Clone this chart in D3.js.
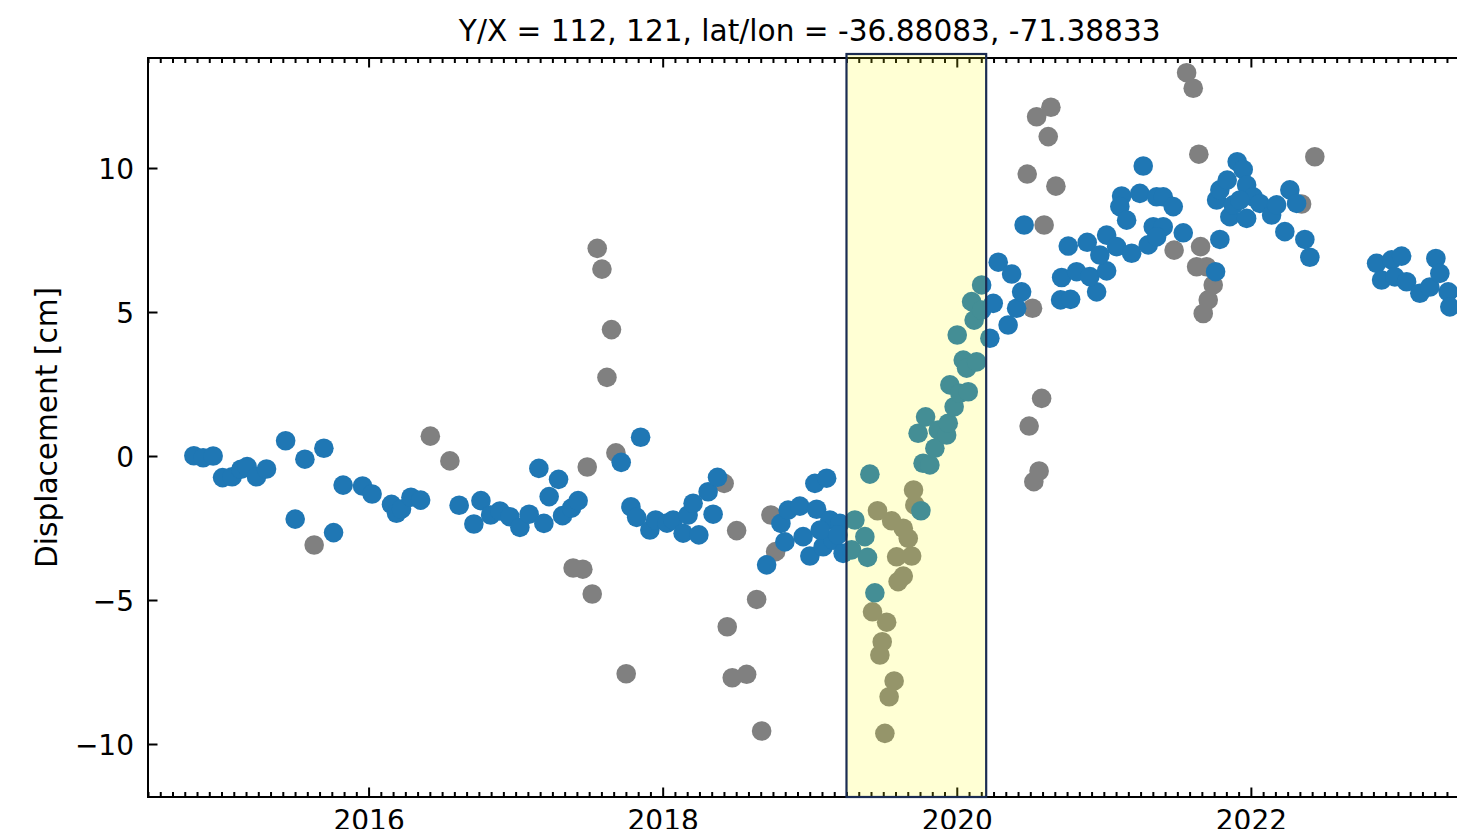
<!DOCTYPE html>
<html>
<head>
<meta charset="utf-8">
<script src="https://cdn.jsdelivr.net/npm/d3@7"></script>
<style>
  html, body { margin: 0; padding: 0; background: #fff; overflow: hidden; }
  svg { display: block; font-family: "DejaVu Sans", sans-serif; }
</style>
</head>
<body>
<svg id="chart" width="1457" height="829"></svg>
<script>
// ---------- DATA ----------
const titleText = "Y/X = 112, 121, lat/lon = -36.88083, -71.38833";
const yLabelText = "Displacement [cm]";
const yTickValues = [-10, -5, 0, 5, 10];
const xMajorYears = [2014, 2016, 2018, 2020, 2022, 2024];
const highlightSpan = [2019.25, 2020.2];

// accepted (blue) points: decimal year, displacement in cm
const blueYear = [
  2014.812, 2014.875, 2014.943, 2015.007, 2015.072, 2015.132, 2015.174, 2015.238, 2015.306, 2015.436,
  2015.501, 2015.567, 2015.696, 2015.762, 2015.827, 2015.959, 2016.024, 2016.156, 2016.190, 2016.224,
  2016.288, 2016.354, 2016.616, 2016.716, 2016.764, 2016.830, 2016.893, 2016.961, 2017.029, 2017.092,
  2017.158, 2017.192, 2017.228, 2017.292, 2017.319, 2017.380, 2017.425, 2017.718, 2017.850, 2017.784,
  2017.823, 2017.913, 2017.952, 2018.029, 2018.071, 2018.139, 2018.173, 2018.207, 2018.246, 2018.309,
  2018.343, 2018.373, 2018.707, 2018.804, 2018.831, 2018.853, 2018.933, 2018.955, 2019.001, 2019.035,
  2019.047, 2019.091, 2019.115, 2019.137, 2019.159, 2019.205, 2019.227, 2019.071, 2019.192, 2019.285,
  2019.307, 2019.375, 2019.393, 2019.409, 2019.443, 2019.756, 2019.771, 2019.817, 2019.851, 2019.737,
  2019.788, 2019.874, 2019.931, 2019.942, 2019.982, 2019.953, 2020.021, 2020.078, 2020.044, 2020.067,
  2020.135, 2020.003, 2020.118, 2020.101, 2020.169, 2020.169, 2020.225, 2020.248, 2020.282, 2020.349,
  2020.373, 2020.407, 2020.441, 2020.458, 2020.706, 2020.774, 2020.713, 2020.815, 2020.758, 2020.887,
  2020.951, 2020.905, 2021.019, 2021.019, 2021.087, 2021.121, 2021.109, 2021.155, 2021.189, 2021.245,
  2021.268, 2021.302, 2021.336, 2021.359, 2020.973, 2021.404, 2021.472, 2021.404, 2021.359, 2021.540,
  2021.760, 2021.789, 2021.767, 2021.789, 2021.839, 2021.857, 2021.880, 2021.907, 2021.948, 2021.971,
  2021.971, 2022.016, 2022.061, 2022.141, 2022.175, 2022.231, 2022.265, 2022.311, 2022.367, 2022.401,
  2021.925, 2022.855, 2022.889, 2022.957, 2023.025, 2022.979, 2023.059, 2023.149, 2023.217, 2023.258,
  2023.285, 2023.342, 2023.353
];
const blueDisp = [
  0.01, -0.06, 0.00, -0.75, -0.72, -0.46, -0.37, -0.72, -0.45, 0.53,
  -2.19, -0.11, 0.27, -2.66, -1.01, -1.04, -1.32, -1.68, -1.99, -1.84,
  -1.43, -1.53, -1.71, -2.36, -1.55, -2.05, -1.91, -2.11, -2.48, -2.02,
  -0.43, -2.34, -1.41, -0.81, -2.07, -1.81, -1.55, -0.22, 0.65, -1.76,
  -2.13, -2.57, -2.22, -2.33, -2.22, -2.68, -2.05, -1.64, -2.74, -1.24,
  -2.02, -0.74, -3.78, -2.34, -2.98, -1.88, -1.74, -2.80, -3.47, -0.95,
  -1.85, -3.15, -0.77, -2.22, -2.92, -2.34, -3.38, -2.57, -2.74, -3.26,
  -2.22, -2.80, -3.52, -0.63, -4.75, -1.90, -0.25, -0.31, 0.27, 0.79,
  1.36, 0.90, 0.73, 1.14, 1.71, 2.47, 2.18, 2.23, 3.33, 3.05,
  3.27, 4.20, 4.72, 5.36, 5.94, 5.07, 4.09, 5.30, 6.73, 4.55,
  6.32, 5.13, 5.70, 8.02, 5.42, 5.44, 6.20, 6.40, 7.29, 7.42,
  5.70, 6.23, 6.43, 7.67, 7.27, 9.03, 8.66, 8.19, 7.04, 9.12,
  10.07, 7.33, 7.96, 9.00, 6.98, 9.00, 8.66, 7.96, 7.61, 7.75,
  6.40, 7.52, 8.89, 9.24, 9.58, 8.31, 8.72, 10.22, 9.95, 9.41,
  8.25, 9.00, 8.77, 8.37, 8.72, 7.79, 9.24, 8.77, 7.52, 6.90,
  8.89, 6.69, 6.11, 6.81, 6.94, 6.22, 6.05, 5.65, 5.87, 6.86,
  6.34, 5.70, 5.18
];

// rejected (grey) points
const greyYear = [
  2015.630, 2016.420, 2016.553, 2017.555, 2017.587, 2017.652, 2017.621, 2017.487, 2017.682, 2017.391,
  2017.457, 2017.521, 2017.752, 2018.418, 2018.503, 2018.439, 2018.473, 2018.571, 2018.639, 2018.673,
  2018.736, 2018.768, 2019.706, 2019.715, 2019.461, 2019.557, 2019.636, 2019.670, 2019.591, 2019.693,
  2019.636, 2019.601, 2019.427, 2019.523, 2019.493, 2019.477, 2019.574, 2019.540, 2019.511, 2020.640,
  2020.543, 2020.622, 2020.479, 2020.674, 2020.594, 2020.515, 2020.577, 2020.492, 2020.560, 2020.524,
  2021.563, 2021.608, 2021.646, 2022.435, 2021.478, 2021.658, 2021.631, 2021.699, 2021.744, 2021.710,
  2021.676, 2022.345
];
const greyDisp = [
  -3.09, 0.69, -0.17, 7.21, 6.49, 4.39, 2.73, -0.38, 0.11, -3.89,
  -3.93, -4.79, -7.56, -0.95, -2.59, -5.93, -7.70, -7.58, -4.98, -9.55,
  -2.05, -3.32, -1.18, -1.70, -1.90, -2.25, -2.51, -2.86, -3.50, -3.47,
  -4.17, -4.36, -5.41, -5.77, -6.45, -6.91, -7.81, -8.36, -9.63, 12.11,
  11.78, 11.09, 9.79, 9.37, 8.02, 5.13, 2.00, 1.04, -0.52, -0.89,
  13.31, 12.77, 10.48, 10.39, 7.15, 7.27, 6.57, 6.57, 5.94, 5.42,
  4.95, 8.75
];

// ---------- LAYOUT ----------
const svg = d3.select("#chart");
const pL = 148, pT = 58, pB = 797;
const pxPerYear = 147.05;
const pR = pL + 9 * pxPerYear;

const x = d3.scaleLinear().domain([2014.5, 2023.5]).range([pL, pR]);
const y = d3.scaleLinear().domain([-11.84, 13.82]).range([pB, pT]);

svg.append("clipPath").attr("id", "plotclip")
  .append("rect").attr("x", pL).attr("y", pT)
  .attr("width", pR - pL).attr("height", pB - pT);

const blueColor = "#1f77b4", greyColor = "#808080";
const r = 9.8;

// points: grey first, blue on top
const pts = svg.append("g").attr("clip-path", "url(#plotclip)");
pts.selectAll("circle.grey").data(greyYear.map((d, i) => [d, greyDisp[i]]))
  .enter().append("circle").attr("class", "grey")
  .attr("cx", d => x(d[0])).attr("cy", d => y(d[1])).attr("r", r)
  .attr("fill", greyColor);
pts.selectAll("circle.blue").data(blueYear.map((d, i) => [d, blueDisp[i]]))
  .enter().append("circle").attr("class", "blue")
  .attr("cx", d => x(d[0])).attr("cy", d => y(d[1])).attr("r", r)
  .attr("fill", blueColor);

// ---------- AXES (matplotlib style, ticks inward) ----------
const minorTicks = [];
for (let yr = 2014; yr <= 2024; yr++) {
  for (let m = 0; m < 12; m++) {
    const v = yr + m / 12;
    if (m === 0 && yr % 2 === 0) continue;
    if (v >= 2014.5 && v <= 2023.5) minorTicks.push(v);
  }
}
const majorX = xMajorYears.filter(v => v >= 2014.5 && v <= 2023.5);

const axisG = svg.append("g");
const fmtY = d => (d < 0 ? "\u2212" + Math.abs(d) : String(d));

// bottom axis
const gxb = axisG.append("g").attr("transform", `translate(0,${pB})`)
  .call(d3.axisBottom(x).tickValues(majorX).tickSize(-9.5).tickFormat(d3.format("d")));
axisG.append("g").attr("transform", `translate(0,${pB})`)
  .call(d3.axisBottom(x).tickValues(minorTicks).tickSize(-5).tickFormat(""));
// top axis
axisG.append("g").attr("transform", `translate(0,${pT})`)
  .call(d3.axisTop(x).tickValues(majorX).tickSize(-9.5).tickFormat(""));
axisG.append("g").attr("transform", `translate(0,${pT})`)
  .call(d3.axisTop(x).tickValues(minorTicks).tickSize(-5).tickFormat(""));
// left axis
const gyl = axisG.append("g").attr("transform", `translate(${pL},0)`)
  .call(d3.axisLeft(y).tickValues(yTickValues).tickSize(-9.5).tickFormat(fmtY));
// right axis
axisG.append("g").attr("transform", `translate(${pR},0)`)
  .call(d3.axisRight(y).tickValues(yTickValues).tickSize(-9.5).tickFormat(""));

axisG.selectAll(".domain").remove();
axisG.selectAll(".tick line").attr("stroke", "#000").attr("stroke-width", 2);
axisG.selectAll(".tick text").attr("fill", "#000").attr("font-size", 28)
  .attr("font-family", "DejaVu Sans");
gxb.selectAll(".tick text").attr("y", 33).attr("dy", 0);
gyl.selectAll(".tick text").attr("dy", 0).attr("y", 10.5).attr("x", -14);

// spines
axisG.append("rect").attr("x", pL).attr("y", pT)
  .attr("width", pR - pL).attr("height", pB - pT)
  .attr("fill", "none").attr("stroke", "#000").attr("stroke-width", 2);

// ---------- HIGHLIGHT SPAN ----------
svg.append("rect")
  .attr("x", x(highlightSpan[0])).attr("y", pT - 4)
  .attr("width", x(highlightSpan[1]) - x(highlightSpan[0]))
  .attr("height", pB - pT + 4)
  .attr("fill", "#ffff00").attr("fill-opacity", 0.17)
  .attr("stroke", "#1b2c52").attr("stroke-width", 2.2);

// ---------- TEXT ----------
svg.append("text").attr("x", (pL + pR) / 2).attr("y", 41)
  .attr("text-anchor", "middle").attr("font-size", 29.6).attr("fill", "#000")
  .text(titleText);

svg.append("text")
  .attr("transform", `translate(57,${(pT + pB) / 2}) rotate(-90)`)
  .attr("text-anchor", "middle").attr("font-size", 29.6).attr("fill", "#000")
  .text(yLabelText);
</script>
</body>
</html>
